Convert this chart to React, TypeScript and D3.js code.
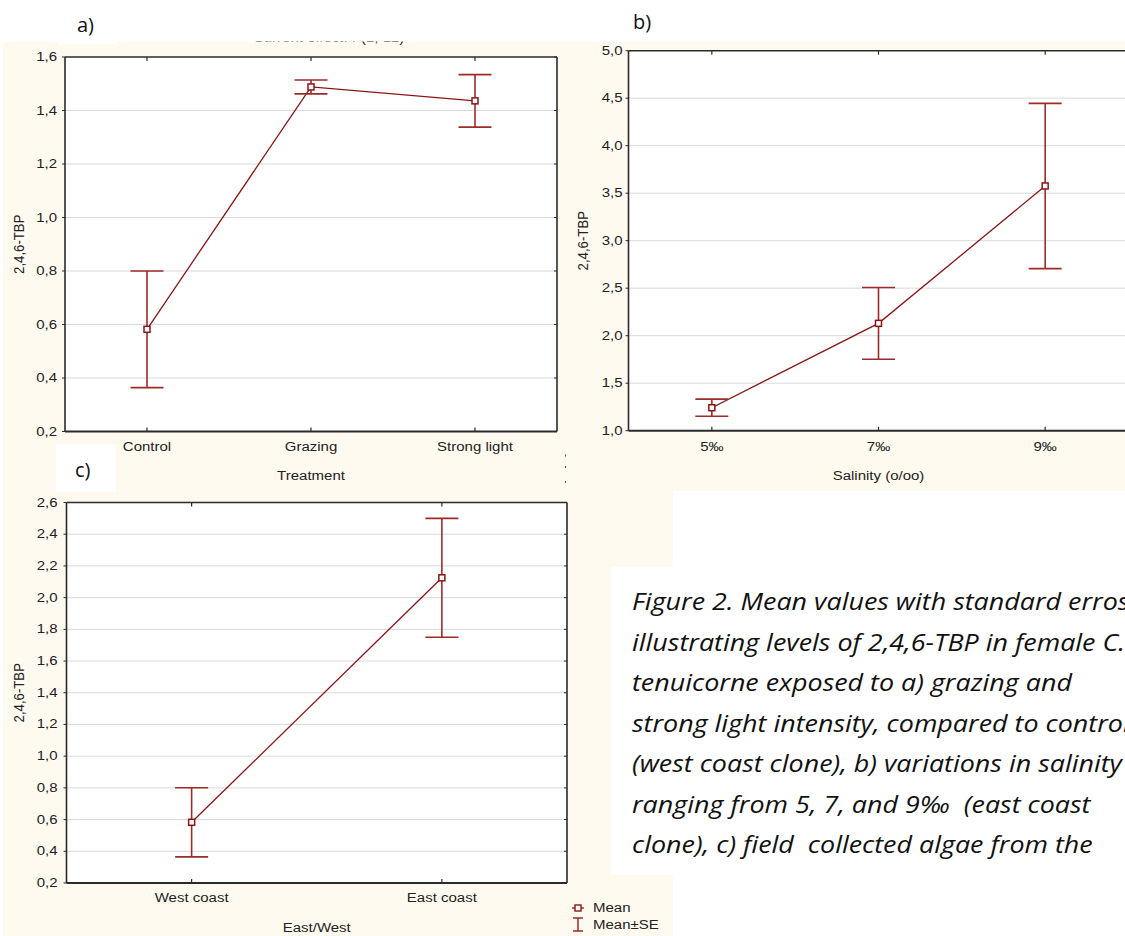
import React from "react";
import * as d3 from "d3";

const treatmentCats = ["Control", "Grazing", "Strong light"];
const treatmentMean = [0.582, 1.488, 1.436];
const treatmentSE = [0.218, 0.026, 0.098];
const treatmentTicks = [0.2, 0.4, 0.6, 0.8, 1.0, 1.2, 1.4, 1.6];

const salinityCats = ["5‰", "7‰", "9‰"];
const salinityMean = [1.242, 2.13, 3.576];
const salinitySE = [0.09, 0.378, 0.87];
const salinityTicks = [1.0, 1.5, 2.0, 2.5, 3.0, 3.5, 4.0, 4.5, 5.0];

const coastCats = ["West coast", "East coast"];
const coastMean = [0.583, 2.125];
const coastSE = [0.218, 0.375];
const coastTicks = [0.2, 0.4, 0.6, 0.8, 1.0, 1.2, 1.4, 1.6, 1.8, 2.0, 2.2, 2.4, 2.6];

const captionLines = [
  "Figure 2. Mean values with standard erros",
  "illustrating levels of 2,4,6-TBP in female C.",
  "tenuicorne exposed to a) grazing and",
  "strong light intensity, compared to control",
  "(west coast clone), b) variations in salinity",
  "ranging from 5, 7, and 9‰  (east coast",
  "clone), c) field  collected algae from the",
];

const LINE = "#8B1414";
const ERR = "#9E2A2A";
const AXIS = "#2b2b2b";
const GRID = "#d9d9d9";
const CREAM = "#FFFAF0";
const FONT = "'Liberation Sans', Arial, sans-serif";
const SX = 1.25;

const fmt = (v: number) => d3.format(".1f")(v).replace(".", ",");

function SText(props: {
  x: number;
  y: number;
  anchor?: string;
  size?: number;
  children: React.ReactNode;
}) {
  return (
    <text
      transform={`translate(${props.x},${props.y}) scale(${SX},1)`}
      textAnchor={props.anchor || "start"}
      fontSize={props.size || 12}
      fontFamily={FONT}
      fill="#222"
    >
      {props.children}
    </text>
  );
}

type PanelProps = {
  cats: string[];
  mean: number[];
  se: number[];
  ticks: number[];
  x0: number;
  x1: number;
  yTop: number;
  yBot: number;
  labelGap: number;
  yLabelX: number;
  xTitle: string;
  xTitleY: number;
  tickLabelY: number;
  clipRight?: number;
};

function Panel(p: PanelProps) {
  const dom = d3.extent(p.ticks) as [number, number];
  const y = d3.scaleLinear().domain(dom).range([p.yBot, p.yTop]);
  const x = d3.scaleBand<string>().domain(p.cats).range([p.x0, p.x1]);
  const cx = (c: string) => (x(c) as number) + x.bandwidth() / 2;
  const line = d3
    .line<number>()
    .x((_, i) => cx(p.cats[i]))
    .y((d) => y(d));
  const cap = 16.5;
  const right = Math.min(p.x1, p.clipRight ?? p.x1);
  return (
    <g>
      <rect x={p.x0} y={p.yTop} width={right - p.x0} height={p.yBot - p.yTop} fill="#fff" />
      {p.ticks.slice(1, -1).map((t) => (
        <line key={"g" + t} x1={p.x0} x2={right} y1={y(t)} y2={y(t)} stroke={GRID} strokeWidth={1} />
      ))}
      <line x1={p.x0} x2={right} y1={p.yTop} y2={p.yTop} stroke={AXIS} strokeWidth={1.6} />
      <line x1={p.x0} x2={right} y1={p.yBot} y2={p.yBot} stroke={AXIS} strokeWidth={2} />
      <line x1={p.x0} x2={p.x0} y1={p.yTop} y2={p.yBot} stroke={AXIS} strokeWidth={1.6} />
      {p.x1 <= right && (
        <line x1={p.x1} x2={p.x1} y1={p.yTop} y2={p.yBot} stroke={AXIS} strokeWidth={1.6} />
      )}
      {p.ticks.map((t) => (
        <g key={"t" + t}>
          <line x1={p.x0 - 3} x2={p.x0} y1={y(t)} y2={y(t)} stroke={AXIS} strokeWidth={1} />
          {p.x1 <= right && (
            <line x1={p.x1 - 3} x2={p.x1} y1={y(t)} y2={y(t)} stroke={AXIS} strokeWidth={1} />
          )}
          <SText x={p.x0 - p.labelGap} y={y(t) + 4} anchor="end">
            {fmt(t)}
          </SText>
        </g>
      ))}
      {p.cats.map((c) => (
        <g key={"x" + c}>
          <line x1={cx(c)} x2={cx(c)} y1={p.yBot - 4} y2={p.yBot} stroke={AXIS} strokeWidth={1.2} />
          <line x1={cx(c)} x2={cx(c)} y1={p.yTop} y2={p.yTop + 4} stroke={AXIS} strokeWidth={1.2} />
          <SText x={cx(c)} y={p.tickLabelY} anchor="middle">
            {c}
          </SText>
        </g>
      ))}
      <SText x={(p.x0 + p.x1) / 2} y={p.xTitleY} anchor="middle">
        {p.xTitle}
      </SText>
      <text
        transform={`translate(${p.yLabelX},${(p.yTop + p.yBot) / 2}) rotate(-90) scale(1.1,1.15)`}
        textAnchor="middle"
        fontSize={12}
        fontFamily={FONT}
        fill="#222"
      >
        2,4,6-TBP
      </text>
      <path d={line(p.mean) || ""} fill="none" stroke={LINE} strokeWidth={1.3} />
      {p.cats.map((c, i) => {
        const hi = y(p.mean[i] + p.se[i]);
        const lo = y(p.mean[i] - p.se[i]);
        return (
          <g key={"e" + c} stroke={ERR} strokeWidth={1.6}>
            <line x1={cx(c)} x2={cx(c)} y1={hi} y2={lo} />
            <line x1={cx(c) - cap} x2={cx(c) + cap} y1={hi} y2={hi} />
            <line x1={cx(c) - cap} x2={cx(c) + cap} y1={lo} y2={lo} />
          </g>
        );
      })}
      {p.cats.map((c, i) => (
        <rect
          key={"m" + c}
          x={cx(c) - 3}
          y={y(p.mean[i]) - 3}
          width={6}
          height={6}
          fill="#fff"
          stroke={LINE}
          strokeWidth={1.5}
        />
      ))}
    </g>
  );
}

export default function App() {
  const W = 1125;
  const H = 936;
  return (
    <svg
      width={W}
      height={H}
      viewBox={`0 0 ${W} ${H}`}
      style={{ position: "absolute", left: 0, top: 0, background: "#fff" }}
    >
      <rect x={0} y={0} width={W} height={H} fill="#fff" />
      <rect x={3} y={42} width={W - 3} height={H - 42} fill={CREAM} />
      {/* faint clipped title of panel a */}
      <SText x={333} y={42} anchor="middle">
        Current effect: F(2, 12)=
      </SText>
      <rect x={0} y={0} width={W} height={41.5} fill="#fff" />
      <rect x={58} y={0} width={59} height={44.5} fill="#fff" />

      <Panel
        cats={treatmentCats}
        mean={treatmentMean}
        se={treatmentSE}
        ticks={treatmentTicks}
        x0={65}
        x1={557}
        yTop={57}
        yBot={431.5}
        labelGap={8}
        yLabelX={24}
        xTitle="Treatment"
        xTitleY={480}
        tickLabelY={451}
      />
      <Panel
        cats={salinityCats}
        mean={salinityMean}
        se={salinitySE}
        ticks={salinityTicks}
        x0={628.5}
        x1={1128.5}
        yTop={50.7}
        yBot={430.7}
        labelGap={6}
        yLabelX={588}
        xTitle="Salinity (o/oo)"
        xTitleY={480}
        tickLabelY={451}
        clipRight={1125}
      />
      {[455.5, 467, 482].map((yy) => (
        <rect key={yy} x={565} y={yy - 1} width={1} height={2} fill={ERR} />
      ))}

      <rect x={673} y={491} width={W - 673} height={H - 491} fill="#fff" />
      <rect x={611} y={567} width={W - 611} height={308} fill="#fff" />
      <rect x={56} y={444} width={60} height={48} fill="#fff" />

      <Panel
        cats={coastCats}
        mean={coastMean}
        se={coastSE}
        ticks={coastTicks}
        x0={66.5}
        x1={567}
        yTop={502.5}
        yBot={883}
        labelGap={9}
        yLabelX={24}
        xTitle="East/West"
        xTitleY={932}
        tickLabelY={902}
      />

      <g>
        <line x1={572} x2={584} y1={908} y2={908} stroke={LINE} strokeWidth={1.3} />
        <rect x={575} y={905} width={6} height={6} fill="#fff" stroke={LINE} strokeWidth={1.4} />
        <SText x={593} y={912}>Mean</SText>
        <g stroke={ERR} strokeWidth={1.5}>
          <line x1={578} x2={578} y1={918} y2={931} />
          <line x1={573} x2={583} y1={918} y2={918} />
          <line x1={573} x2={583} y1={931} y2={931} />
        </g>
        <SText x={593} y={929}>Mean±SE</SText>
      </g>

      <text x={77} y={32} fontSize={20} fontFamily="'Open Sans', sans-serif" fill="#111">
        a)
      </text>
      <text x={633} y={29} fontSize={20} fontFamily="'Open Sans', sans-serif" fill="#111">
        b)
      </text>
      <text x={75} y={477} fontSize={20} fontFamily="'Open Sans', sans-serif" fill="#111">
        c)
      </text>

      {captionLines.map((l, i) => (
        <text
          key={i}
          transform={`translate(632,${610 + i * 40.5}) scale(1.12,1)`}
          fontSize={24}
          fontStyle="italic"
          fontFamily="'Open Sans', sans-serif"
          fill="#111"
          style={{ whiteSpace: "pre" }}
        >
          {l}
        </text>
      ))}
    </svg>
  );
}
